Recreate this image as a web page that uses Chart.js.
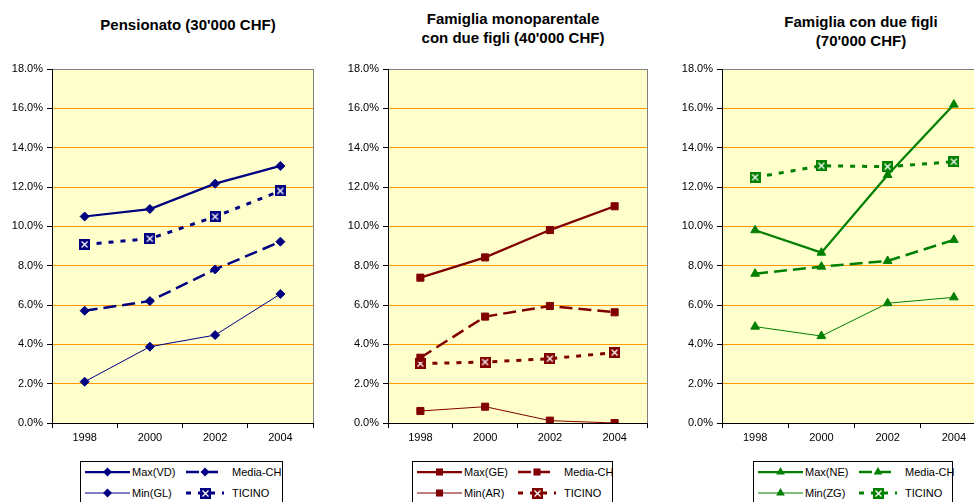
<!DOCTYPE html>
<html>
<head>
<meta charset="utf-8">
<script src="https://cdn.jsdelivr.net/npm/chart.js@4.4.0/dist/chart.umd.min.js"></script>
<style>
  body { margin: 0; width: 974px; height: 502px; overflow: hidden; background: #fff; position: relative; font-family: Arial, "Liberation Sans", sans-serif; }
  .panel { position: absolute; top: 0; width: 330px; height: 450px; }
  .title { position: absolute; width: 300px; font-weight: bold; font-size: 15px; line-height: 19px; text-align: center; color: #000; white-space: nowrap; }
  .legend { position: absolute; top: 461px; height: 50px; border: 1px solid #000; background: #fff; box-sizing: border-box; }
  .item { position: absolute; font-size: 11px; line-height: 12px; color: #000; white-space: nowrap; }
</style>
</head>
<body>
<div class="title" style="left:38px;top:15px">Pensionato (30'000 CHF)</div>
<div class="title" style="left:363px;top:9px">Famiglia monoparentale<br>con due figli (40'000 CHF)</div>
<div class="title" style="left:711px;top:12px">Famiglia con due figli<br>(70'000 CHF)</div>

<div class="panel" style="left:0px"><canvas id="c1"></canvas></div>
<div class="panel" style="left:336px"><canvas id="c2"></canvas></div>
<div class="panel" style="left:670px"><canvas id="c3"></canvas></div>

<div class="legend" id="l1" style="left:80px;width:203px"></div>
<div class="legend" id="l2" style="left:412px;width:201px"></div>
<div class="legend" id="l3" style="left:753px;width:200px"></div>

<script>
// categories and tick values
const years = ['1998', '2000', '2002', '2004']
const yTickValues = [0, 2, 4, 6, 8, 10, 12, 14, 16, 18]

// Pensionato (30'000 CHF)
const pensLabels = ['Max(VD)', 'Media-CH', 'Min(GL)', 'TICINO']
const pensMax = [10.5, 10.88, 12.17, 13.07]
const pensMedia = [5.71, 6.2, 7.81, 9.22]
const pensMin = [2.1, 3.88, 4.47, 6.56]
const pensTicino = [9.08, 9.37, 10.49, 11.8]

// Famiglia monoparentale con due figli (40'000 CHF)
const monoLabels = ['Max(GE)', 'Media-CH', 'Min(AR)', 'TICINO']
const monoMax = [7.39, 8.42, 9.81, 11.02]
const monoMedia = [3.32, 5.41, 5.95, 5.63]
const monoMin = [0.61, 0.83, 0.12, 0.0]
const monoTicino = [3.02, 3.1, 3.27, 3.58]

// Famiglia con due figli (70'000 CHF)
const famLabels = ['Max(NE)', 'Media-CH', 'Min(ZG)', 'TICINO']
const famMax = [9.8, 8.66, 12.61, 16.19]
const famMedia = [7.59, 7.95, 8.24, 9.31]
const famMin = [4.9, 4.42, 6.09, 6.39]
const famTicino = [12.49, 13.08, 13.03, 13.29]

const FONT = 'Arial, "Liberation Sans", sans-serif'

// square marker with white cross, used for TICINO
function crossBox(color) {
  const c = document.createElement('canvas')
  c.width = 11
  c.height = 11
  const g = c.getContext('2d')
  g.fillStyle = color
  g.fillRect(0, 0, 11, 11)
  g.strokeStyle = '#fff'
  g.lineWidth = 1.3
  g.beginPath()
  g.moveTo(2.5, 2.5); g.lineTo(8.5, 8.5)
  g.moveTo(8.5, 2.5); g.lineTo(2.5, 8.5)
  g.stroke()
  return c
}

function makeSeries(labels, max, media, min, ticino, color, marker, radius) {
  const base = { borderColor: color, backgroundColor: color, pointStyle: marker, pointRadius: radius, pointBorderWidth: 1, tension: 0, fill: false }
  return [
    { ...base, label: labels[0], data: max, borderWidth: 2.25 },
    { ...base, label: labels[1], data: media, borderWidth: 2.5, borderDash: [13, 6] },
    { ...base, label: labels[2], data: min, borderWidth: 1 },
    { ...base, label: labels[3], data: ticino, borderWidth: 3, borderDash: [5, 7], pointStyle: crossBox(color), pointRadius: 6 }
  ]
}

const plotFrame = {
  id: 'plotFrame',
  beforeDraw(chart) {
    const { ctx, chartArea: a } = chart
    ctx.save()
    ctx.fillStyle = '#FFFFCC'
    ctx.fillRect(a.left, a.top, a.right - a.left, a.bottom - a.top)
    ctx.restore()
  },
  beforeDatasetsDraw(chart) {
    const { ctx, chartArea: a } = chart
    ctx.save()
    ctx.strokeStyle = '#808080'
    ctx.lineWidth = 1
    ctx.beginPath()
    ctx.moveTo(Math.round(a.right) + 0.5, a.top)
    ctx.lineTo(Math.round(a.right) + 0.5, a.bottom)
    ctx.stroke()
    ctx.restore()
  }
}

function makeChart(id, datasets, rightPad, width) {
  const cv = document.getElementById(id)
  cv.parentNode.style.width = width + 'px'
  return new Chart(cv.getContext('2d'), {
    type: 'line',
    data: { labels: years, datasets: datasets },
    plugins: [plotFrame],
    options: {
      responsive: true,
      maintainAspectRatio: false,
      animation: false,
      events: [],
      layout: { padding: { top: 69, right: rightPad, left: 0, bottom: 0 } },
      plugins: { legend: { display: false }, tooltip: { enabled: false } },
      scales: {
        x: {
          offset: true,
          afterFit(s) { s.height = 27 },
          ticks: { color: '#000', font: { family: FONT, size: 11 }, padding: 3, maxRotation: 0 },
          grid: { offset: true, drawOnChartArea: false, drawTicks: true, tickLength: 5, tickColor: '#000' },
          border: { color: '#000', width: 1 }
        },
        y: {
          min: 0,
          max: 18,
          afterFit(s) { s.width = 52 },
          afterBuildTicks(s) { s.ticks = yTickValues.map(v => ({ value: v })) },
          ticks: { color: '#000', font: { family: FONT, size: 11 }, padding: 4, callback: v => v.toFixed(1) + '%' },
          grid: {
            color: c => c.tick && c.tick.value === 0 ? 'rgba(0,0,0,0)' : (c.tick && c.tick.value === 18 ? '#808080' : '#FF9900'),
            tickColor: '#000',
            tickLength: 5,
            lineWidth: 1
          },
          border: { color: '#000', width: 1 }
        }
      }
    }
  })
}

function drawMarker(g, ds, x, y) {
  const st = ds.pointStyle
  if (st instanceof HTMLCanvasElement) {
    g.drawImage(st, Math.round(x - st.width / 2), Math.round(y - st.height / 2))
    return
  }
  const r = ds.pointRadius
  g.fillStyle = ds.borderColor
  g.beginPath()
  if (st === 'rectRot') {
    g.moveTo(x, y - r); g.lineTo(x + r, y); g.lineTo(x, y + r); g.lineTo(x - r, y)
  } else if (st === 'rect') {
    const s = r * Math.SQRT1_2
    g.rect(x - s, y - s, 2 * s, 2 * s)
  } else if (st === 'triangle') {
    g.moveTo(x, y - r); g.lineTo(x + r * 0.87, y + r * 0.5); g.lineTo(x - r * 0.87, y + r * 0.5)
  }
  g.closePath()
  g.fill()
}

function buildLegend(id, datasets) {
  const box = document.getElementById(id)
  const cols = [{ sx: 4, sw: 45, tx: 51 }, { sx: 105, sw: 38, tx: 151 }]
  const rows = [10, 31]
  datasets.forEach((ds, i) => {
    const col = cols[i % 2]
    const cy = rows[Math.floor(i / 2)]
    const sw = document.createElement('canvas')
    sw.width = col.sw
    sw.height = 14
    sw.style.position = 'absolute'
    sw.style.left = col.sx + 'px'
    sw.style.top = (cy - 7) + 'px'
    const g = sw.getContext('2d')
    g.strokeStyle = ds.borderColor
    g.lineWidth = ds.borderWidth
    g.setLineDash(ds.borderDash || [])
    g.beginPath()
    g.moveTo(0, 7)
    g.lineTo(col.sw, 7)
    g.stroke()
    g.setLineDash([])
    drawMarker(g, ds, col.sw / 2, 7)
    box.appendChild(sw)
    const t = document.createElement('div')
    t.className = 'item'
    t.style.left = col.tx + 'px'
    t.style.top = (cy - 6) + 'px'
    t.textContent = ds.label
    box.appendChild(t)
  })
}

const set1 = makeSeries(pensLabels, pensMax, pensMedia, pensMin, pensTicino, '#000080', 'rectRot', 4.5)
const set2 = makeSeries(monoLabels, monoMax, monoMedia, monoMin, monoTicino, '#800000', 'rect', 5)
const set3 = makeSeries(famLabels, famMax, famMedia, famMin, famTicino, '#008000', 'triangle', 5)

makeChart('c1', set1, 17, 330)
makeChart('c2', set2, 19, 330)
makeChart('c3', set3, 13, 330)

buildLegend('l1', set1)
buildLegend('l2', set2)
buildLegend('l3', set3)
</script>
</body>
</html>
